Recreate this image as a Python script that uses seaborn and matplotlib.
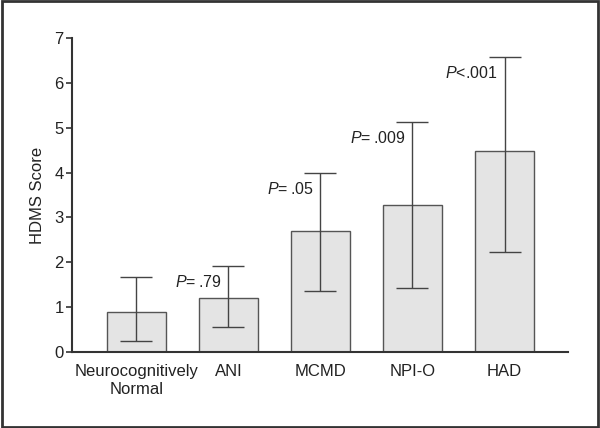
import matplotlib
matplotlib.use('Agg')
import matplotlib.pyplot as plt
from matplotlib.patches import Rectangle
import seaborn as sns
import pandas as pd

# dados
grupos = ['Neurocognitively\nNormal', 'ANI', 'MCMD', 'NPI-O', 'HAD']
media = [0.9, 1.2, 2.69, 3.28, 4.48]
erro_inf = [0.24, 0.55, 1.36, 1.42, 2.23]
erro_sup = [1.67, 1.92, 4.0, 5.12, 6.58]
valores_p = ['', '=\u2009.79', '=\u2009.05', '=\u2009.009', '<.001']

sns.set_style('white')
plt.rcParams['font.family'] = ['Liberation Sans', 'DejaVu Sans']
plt.rcParams['mathtext.fontset'] = 'custom'
plt.rcParams['mathtext.it'] = 'Liberation Sans:italic'
plt.rcParams['mathtext.rm'] = 'Liberation Sans'

df = pd.DataFrame({'grupo': grupos, 'media': media})

fig = plt.figure(figsize=(6, 4.28), dpi=100)
ax = fig.add_axes([0.12, 0.1776, 0.8267, 0.7336])

sns.barplot(data=df, x='grupo', y='media', color='#e4e4e4', edgecolor='#555555',
            linewidth=1, width=0.65, errorbar=None, ax=ax, saturation=1)

yerr = [[m - lo for m, lo in zip(media, erro_inf)], [hi - m for m, hi in zip(media, erro_sup)]]
ax.errorbar(range(len(grupos)), media, yerr=yerr, fmt='none', ecolor='#444444',
            elinewidth=1, capsize=11.5, capthick=1)

for i, p in enumerate(valores_p):
    if p:
        ax.annotate('$P$' + p, xy=(i, erro_sup[i]), xytext=(-7, -16), textcoords='offset pixels',
                    ha='right', va='center', fontsize=11.5, color='#222222')

ax.set_xlim(-0.70, 4.69)
ax.set_ylim(0, 7)
ax.set_yticks(range(0, 8))
ax.set_xlabel('')
ax.set_ylabel('HDMS Score', fontsize=12, color='#222222', labelpad=7)
ax.tick_params(axis='y', direction='out', length=4, width=1.2, color='#333333',
               labelsize=12, labelcolor='#222222', pad=2, left=True)
ax.tick_params(axis='x', length=0, labelsize=12, labelcolor='#222222', pad=9)
sns.despine(ax=ax)
for s in ['left', 'bottom']:
    ax.spines[s].set_color('#333333')
    ax.spines[s].set_linewidth(1.5)

fig.patches.append(Rectangle((0.003, 0.003), 0.993, 0.994, transform=fig.transFigure,
                             fill=False, edgecolor='#333333', linewidth=2, figure=fig))

fig.savefig('out.png', dpi=100)
